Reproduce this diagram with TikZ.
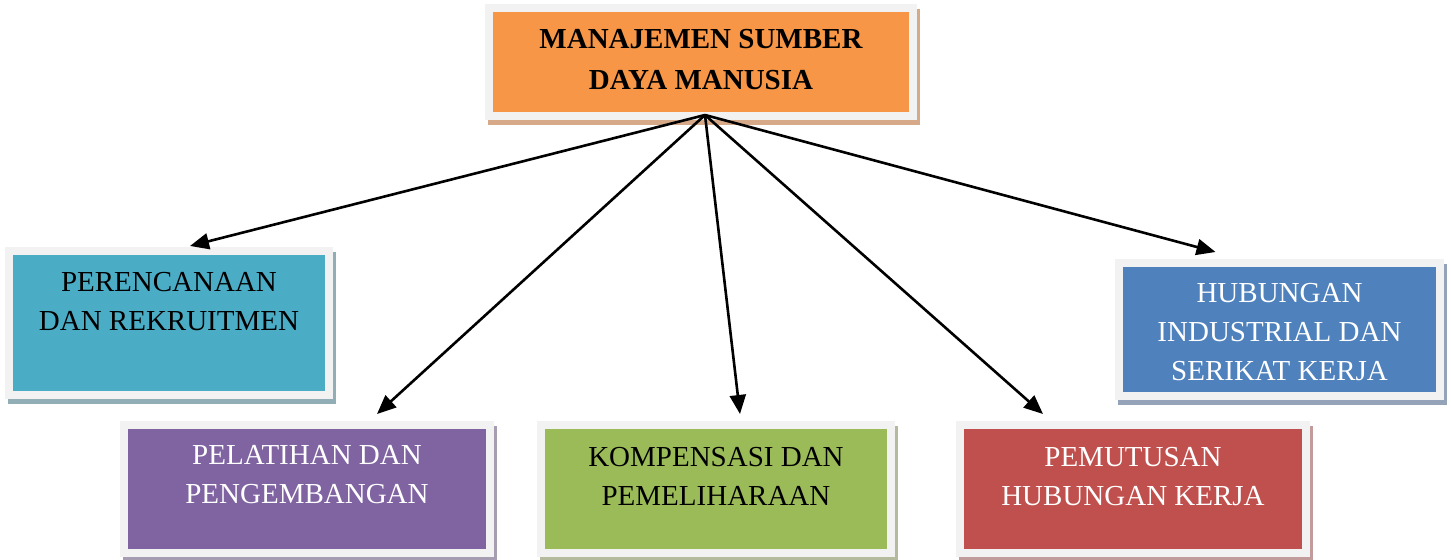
\documentclass[tikz,border=0pt]{standalone}
\usepackage{fontspec}
\setmainfont{Liberation Serif}
\usetikzlibrary{arrows.meta, positioning, shadows}

\definecolor{framegray}{HTML}{F2F2F2}
\definecolor{msdmorange}{HTML}{F79646}
\definecolor{msdmteal}{HTML}{4BACC6}
\definecolor{msdmblue}{HTML}{4F81BD}
\definecolor{msdmpurple}{HTML}{8064A2}
\definecolor{msdmgreen}{HTML}{9BBB59}
\definecolor{msdmred}{HTML}{C0504D}
\definecolor{orangeshadow}{HTML}{D6A988}
\definecolor{tealshadow}{HTML}{91ADB6}
\definecolor{blueshadow}{HTML}{95A3B8}
\definecolor{purpleshadow}{HTML}{A79DB3}
\definecolor{greenshadow}{HTML}{B3BA9E}
\definecolor{redshadow}{HTML}{C29C9B}

\begin{document}
\begin{tikzpicture}[x=0.5pt, y=-0.5pt, >={Triangle[length=9.5pt, width=8pt]},
    unitbox/.style={rectangle, draw=framegray, line width=4pt, inner sep=0pt},
    boxshadow/.style={drop shadow={shadow xshift=1.5pt, shadow yshift=-2.5pt, opacity=1, fill=#1, draw=#1, line width=4pt}},
    boxtext/.style={inner sep=0pt, align=center, font=\fontsize{14.5}{19.5}\selectfont},
    link/.style={->, line width=1.3pt}]
    \useasboundingbox (0,0) rectangle (1451,560);

    % Nodes
    \node[unitbox, fill=msdmorange, boxshadow=orangeshadow, minimum width=212pt, minimum height=54pt] (msdm) at (701,62) {};
    \node[unitbox, fill=msdmteal, boxshadow=tealshadow, minimum width=160pt, minimum height=72pt] (plan) at (169,323) {};
    \node[unitbox, fill=msdmblue, boxshadow=blueshadow, minimum width=160.5pt, minimum height=66.5pt] (indus) at (1279.5,329.5) {};
    \node[unitbox, fill=msdmpurple, boxshadow=purpleshadow, minimum width=183pt, minimum height=64pt] (train) at (307,489) {};
    \node[unitbox, fill=msdmgreen, boxshadow=greenshadow, minimum width=175pt, minimum height=64pt] (comp) at (716,489) {};
    \node[unitbox, fill=msdmred, boxshadow=redshadow, minimum width=173pt, minimum height=64pt] (term) at (1133,489) {};

    % Texts
    \node[boxtext, font=\fontsize{14.5}{20.5}\selectfont\bfseries, below=12.5pt of msdm.north] (msdm-t) {MANAJEMEN SUMBER\\DAYA MANUSIA};
    \node[boxtext, below=12.5pt of plan.north] (plan-t) {PERENCANAAN\\DAN REKRUITMEN};
    \node[boxtext, text=white, below=12pt of indus.north] (indus-t) {HUBUNGAN\\INDUSTRIAL DAN\\SERIKAT KERJA};
    \node[boxtext, text=white, below=12pt of train.north] (train-t) {PELATIHAN DAN\\PENGEMBANGAN};
    \node[boxtext, below=13pt of comp.north] (comp-t) {KOMPENSASI DAN\\PEMELIHARAAN};
    \node[boxtext, text=white, below=13pt of term.north] (term-t) {PEMUTUSAN\\HUBUNGAN KERJA};

    % Edges
    \coordinate (src) at ([shift={(4,-5)}]msdm.south);
    \draw[link] (src) -- ([shift={(21,-1)}]plan.north);
    \draw[link] (src) -- ([shift={(70,-7)}]train.north);
    \draw[link] (src) -- ([shift={(24,-7)}]comp.north);
    \draw[link] (src) -- ([shift={(-90,-7)}]term.north);
    \draw[link] (src) -- ([shift={(-64,-7)}]indus.north);
\end{tikzpicture}
\end{document}
